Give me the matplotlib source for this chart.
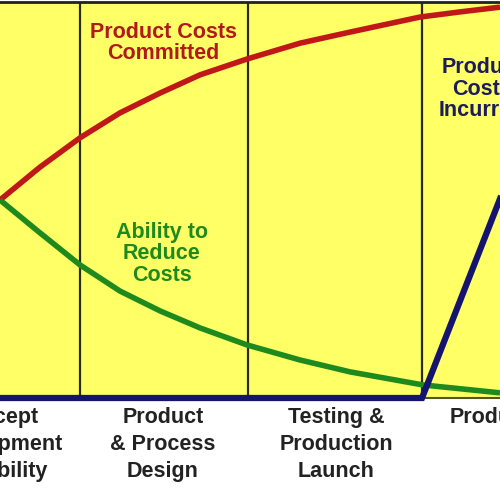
import matplotlib
matplotlib.use("Agg")
import matplotlib.pyplot as plt

# ---- data (time in % of visible span, value in % of max) ----
phase_bounds = [16.0, 49.6, 84.4]
phase_labels = ["Concept\nDevelopment\nFeasibility", "Product\n& Process\nDesign",
                "Testing &\nProduction\nLaunch", "Production"]
phase_label_x = [-1.0, 32.6, 67.2, 101.2]

t_committed = [0, 8, 16, 24, 32, 40, 49.4, 60, 70, 84, 92, 100]
v_committed = [50.0, 58.3, 65.7, 72.0, 77.0, 81.6, 85.6, 89.6, 92.4, 96.2, 97.5, 98.7]

t_reduce = [0, 8, 16, 24, 32, 40, 49.4, 60, 70, 84.6, 100]
v_reduce = [50.0, 41.7, 33.6, 27.0, 22.0, 17.7, 13.4, 9.6, 6.6, 3.3, 1.3]

t_incurred = [0, 84.4, 100]
v_incurred = [0, 0, 50.3]

YELLOW = "#FFFF66"
RED = "#C01818"
GREEN = "#1E8A1E"
NAVY = "#141470"

fig = plt.figure(figsize=(5, 5), dpi=100)
ax = fig.add_axes([0, 0.204, 1, 0.792])
ax.set_facecolor(YELLOW)
ax.set_xlim(0, 100)
ax.set_ylim(0, 100)
ax.set_xticks([])
ax.set_yticks([])
for s in ["left", "right"]:
    ax.spines[s].set_visible(False)
ax.spines["top"].set_color("#222222")
ax.spines["top"].set_linewidth(2)
ax.spines["bottom"].set_color("#555522")
ax.spines["bottom"].set_linewidth(1.5)

for b in phase_bounds:
    ax.axvline(b, color="#2a2a1a", lw=1.6, zorder=1)

ax.plot(t_committed, v_committed, color=RED, lw=4, solid_capstyle="butt",
        solid_joinstyle="round", zorder=3)
ax.plot(t_reduce, v_reduce, color=GREEN, lw=4, solid_capstyle="butt",
        solid_joinstyle="round", zorder=3)
ax.plot(t_incurred, v_incurred, color=NAVY, lw=4.5, zorder=4, clip_on=False,
        solid_joinstyle="miter")

font = dict(family=["Liberation Sans", "DejaVu Sans"], fontweight="bold", fontsize=15.5)
ax.text(32.6, 89.6, "Product Costs\nCommitted", color="#B01A1A", ha="center", va="center",
        linespacing=1.0, **font)
ax.text(32.4, 36.4, "Ability to\nReduce\nCosts", color=GREEN, ha="center", va="center",
        linespacing=1.02, **font)
ax.text(96.4, 78.0, "Product\nCosts\nIncurred", color="#1C1C5C", ha="center", va="center",
        linespacing=1.02, **font)

for x, lab in zip(phase_label_x, phase_labels):
    ax.text(x, -2.3, lab, color="#222222", ha="center", va="top", linespacing=1.36,
            clip_on=False, **font)

fig.savefig("out.png", dpi=100, facecolor="white")
